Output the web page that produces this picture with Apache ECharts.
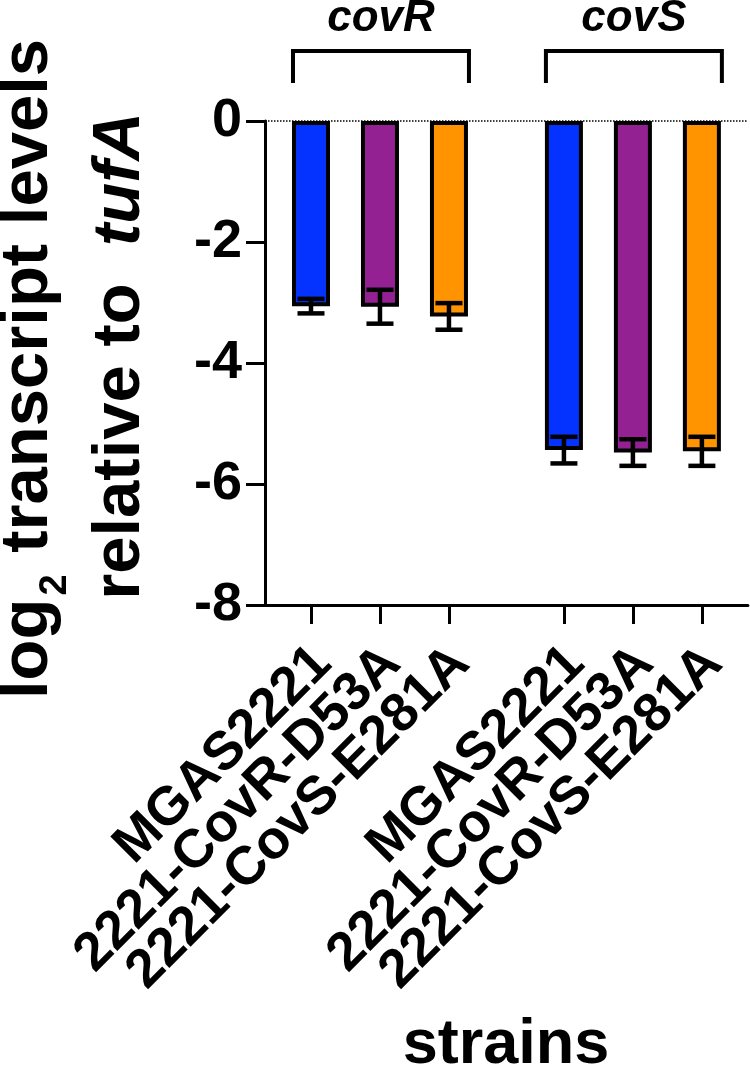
<!DOCTYPE html>
<html>
<head>
<meta charset="utf-8">
<script src="https://cdn.jsdelivr.net/npm/echarts@6/dist/echarts.min.js"></script>
<style>html,body{margin:0;padding:0;background:#fff}#main{width:750px;height:1074px}</style>
</head>
<body>
<div id="main"></div>
<script>
// data
var genes = ['covR', 'covS'];
var strains = ['MGAS2221', '2221-CovR-D53A', '2221-CovS-E281A'];
var strainColors = ['#0433FF', '#942192', '#FF9300'];
var covRMean = [-3.06, -3.07, -3.23];
var covRSd = [0.12, 0.28, 0.22];
var covSMean = [-5.44, -5.48, -5.46];
var covSSd = [0.22, 0.22, 0.24];
var yTicks = [-8, -6, -4, -2, 0];

var means = [covRMean, covSMean];
var sds = [covRSd, covSSd];
var FONT = "'Liberation Sans', Arial, sans-serif";

// x axis is cut in 22 thin slots, bars sit on 2,5,8 and 13,16,19
var nSlots = 22;
function slotOf(g, i) { return 2 + g * 11 + i * 3; }

var cats = [], barData = [], errData = [], barSlots = {};
for (var s = 0; s < nSlots; s++) { cats.push(''); barData.push('-'); }
for (var g = 0; g < genes.length; g++) {
    for (var i = 0; i < strains.length; i++) {
        var k = slotOf(g, i);
        cats[k] = strains[i];
        barSlots[k] = true;
        barData[k] = { value: means[g][i], itemStyle: { color: strainColors[i] } };
        errData.push([k, means[g][i] - sds[g][i], means[g][i] + sds[g][i]]);
    }
}

var chart = echarts.init(document.getElementById('main'));
chart.setOption({
    animation: false,
    grid: { left: 265, right: 2, top: 121, bottom: 469 },
    xAxis: {
        type: 'category',
        data: cats,
        boundaryGap: false,
        axisLine: { onZero: false, lineStyle: { color: '#000', width: 3 } },
        axisTick: {
            length: 19, lineStyle: { color: '#000', width: 3 },
            interval: function (idx) { return !!barSlots[idx]; }
        },
        axisLabel: {
            interval: 0, rotate: 45, margin: 24, padding: [0, 10, 0, 0],
            align: 'right', verticalAlign: 'top',
            color: '#000', fontSize: 54, fontWeight: 'bold', fontFamily: FONT
        },
        splitLine: { show: false }
    },
    yAxis: {
        type: 'value',
        min: yTicks[0], max: yTicks[yTicks.length - 1], interval: 2,
        axisLine: { show: true, lineStyle: { color: '#000', width: 3 } },
        axisTick: { show: true, length: 19, lineStyle: { color: '#000', width: 3 } },
        axisLabel: { margin: 23, color: '#000', fontSize: 54, fontWeight: 'bold', fontFamily: FONT },
        splitLine: { show: false }
    },
    series: [{
        type: 'bar',
        data: barData,
        barWidth: 38,
        itemStyle: { borderColor: '#000', borderWidth: 4 },
        markLine: {
            silent: true, symbol: ['none', 'none'], label: { show: false },
            lineStyle: { color: '#000', type: 'dotted', width: 1.5 },
            data: [{ yAxis: 0 }]
        }
    }, {
        // error bars (mean ± sd)
        type: 'custom',
        data: errData,
        z: 5,
        renderItem: function (params, api) {
            var lo = api.coord([api.value(0), api.value(1)]);
            var hi = api.coord([api.value(0), api.value(2)]);
            var w = 13.5;
            var st = { stroke: '#000', lineWidth: 4.5 };
            return {
                type: 'group',
                children: [
                    { type: 'line', shape: { x1: lo[0], y1: lo[1], x2: hi[0], y2: hi[1] }, style: st },
                    { type: 'line', shape: { x1: lo[0] - w, y1: lo[1], x2: lo[0] + w, y2: lo[1] }, style: st },
                    { type: 'line', shape: { x1: hi[0] - w, y1: hi[1], x2: hi[0] + w, y2: hi[1] }, style: st }
                ]
            };
        }
    }, {
        // gene brackets above the groups
        type: 'custom',
        data: genes.map(function (g, gi) { return [slotOf(gi, 0), 0]; }),
        clip: false,
        z: 5,
        renderItem: function (params, api) {
            var gi = params.dataIndex;
            var a = api.coord([slotOf(gi, 0), 0]);
            var b = api.coord([slotOf(gi, strains.length - 1), 0]);
            var x0 = a[0] - 18, x1 = b[0] + 20;
            var yb = a[1] - 70, yl = a[1] - 38;
            return {
                type: 'group',
                children: [
                    { type: 'polyline', shape: { points: [[x0, yl], [x0, yb], [x1, yb], [x1, yl]] }, style: { stroke: '#000', lineWidth: 4, fill: null } },
                    { type: 'text', style: {
                        text: genes[gi], x: (x0 + x1) / 2, y: a[1] - 102,
                        textAlign: 'center', textVerticalAlign: 'middle',
                        align: 'center', verticalAlign: 'middle',
                        fill: '#000', fontSize: 44, fontWeight: 'bold', fontStyle: 'italic', fontFamily: FONT
                    } }
                ]
            };
        }
    }],
    graphic: [{
        type: 'text',
        x: 75, y: 356,
        rotation: Math.PI / 2,
        style: {
            text: '{a|log}{s|2}{b| transcript levels}\n{a|relative to  }{i|tufA}',
            textAlign: 'center', textVerticalAlign: 'middle',
            align: 'center', verticalAlign: 'middle',
            fill: '#000',
            rich: {
                a: { fontSize: 67, fontWeight: 'bold', fontFamily: FONT, lineHeight: 92 },
                b: { fontSize: 67, fontWeight: 'bold', fontFamily: FONT, lineHeight: 92, padding: [0, 26, 0, 0] },
                s: { fontSize: 38, fontWeight: 'bold', fontFamily: FONT, lineHeight: 38, verticalAlign: 'bottom', padding: [0, 3, 0, 3] },
                i: { fontSize: 67, fontWeight: 'bold', fontStyle: 'italic', fontFamily: FONT, lineHeight: 92 }
            }
        }
    }, {
        type: 'text',
        x: 506, y: 1046,
        style: {
            text: 'strains',
            textAlign: 'center', textVerticalAlign: 'middle',
            align: 'center', verticalAlign: 'middle',
            fill: '#000', fontSize: 63, fontWeight: 'bold', fontFamily: FONT
        }
    }]
});
</script>
</body>
</html>
